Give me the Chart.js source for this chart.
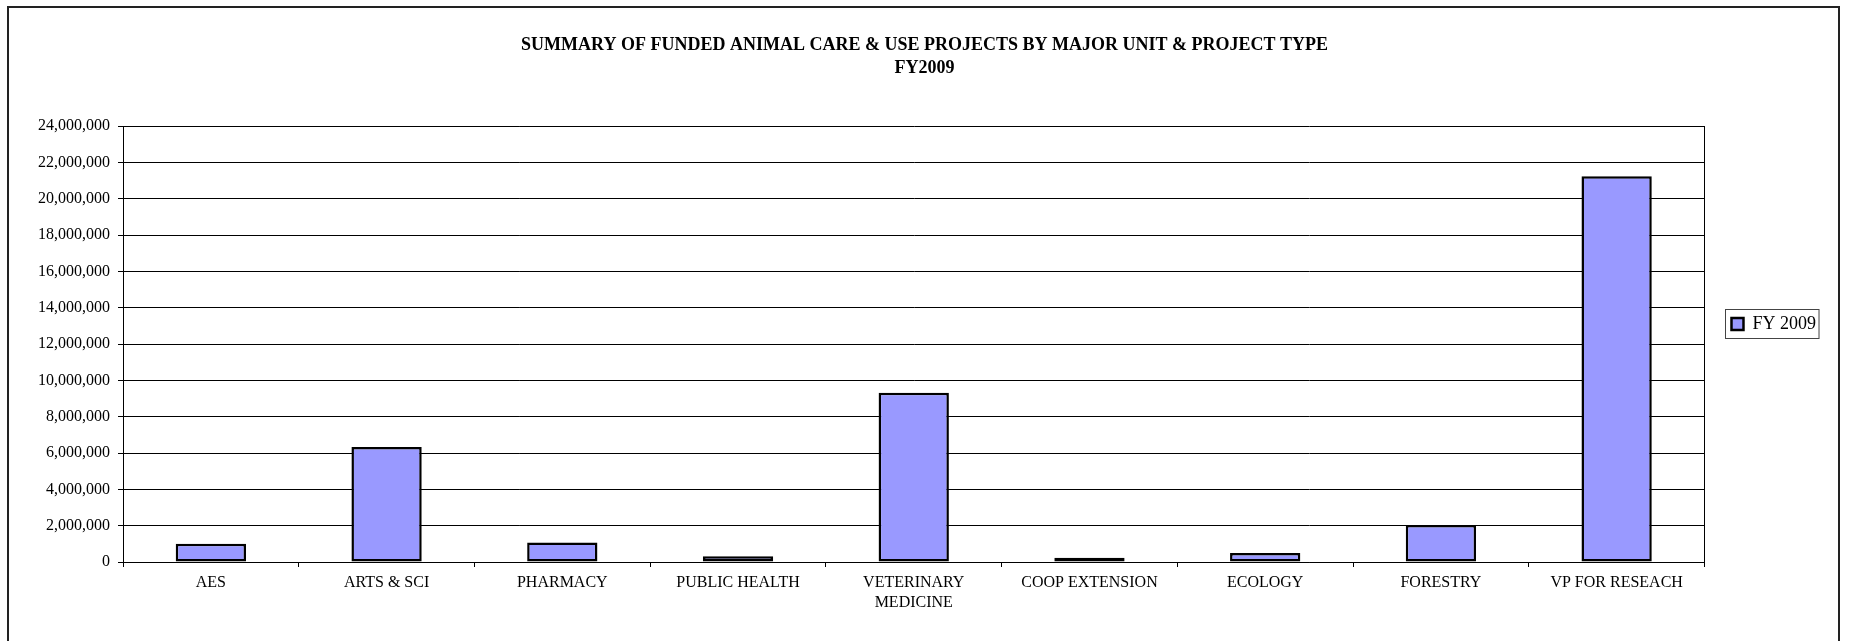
<!DOCTYPE html>
<html>
<head>
<meta charset="utf-8">
<title>Funded Animal Care & Use Projects FY2009</title>
<script src="https://cdn.jsdelivr.net/npm/chart.js@4.4.0/dist/chart.umd.min.js"></script>
<style>
  html, body { margin: 0; padding: 0; background: #fff; }
  canvas { display: block; }
</style>
</head>
<body>
<canvas id="chart" width="1851" height="641"></canvas>
<script>
// chart data
const units = ['AES', 'ARTS & SCI', 'PHARMACY', 'PUBLIC HEALTH', ['VETERINARY', 'MEDICINE'],
  'COOP EXTENSION', 'ECOLOGY', 'FORESTRY', 'VP FOR RESEACH'];
const fy2009 = [1000000, 6330000, 1080000, 320000, 9310000, 230000, 490000, 2030000, 21240000];
const seriesName = 'FY 2009';
const titleLines = ['SUMMARY OF FUNDED ANIMAL CARE & USE PROJECTS BY MAJOR UNIT & PROJECT TYPE', 'FY2009'];

const serif = '"Liberation Serif", "Times New Roman", serif';

// outer frame, plot box and the legend's border (like the Excel chart)
const framePlugin = {
  id: 'frame',
  beforeDraw(chart) {
    const ctx = chart.ctx;
    ctx.save();
    ctx.fillStyle = '#fff';
    ctx.fillRect(0, 0, chart.width, chart.height);
    ctx.restore();
  },
  afterDraw(chart) {
    const ctx = chart.ctx;
    const a = chart.chartArea;
    ctx.save();
    ctx.strokeStyle = '#222';
    ctx.lineWidth = 2;
    ctx.strokeRect(8, 7, 1831, 700);

    ctx.strokeStyle = '#000';
    ctx.lineWidth = 1;
    ctx.beginPath();
    ctx.moveTo(Math.round(a.right) + 0.5, a.top);
    ctx.lineTo(Math.round(a.right) + 0.5, a.bottom);
    ctx.stroke();

    const hb = chart.legend.legendHitBoxes[0];
    if (hb) {
      ctx.strokeStyle = '#444';
      ctx.strokeRect(Math.round(hb.left) - 5.5, Math.round(hb.top) - 5.5, hb.width + 9, hb.height + 11);
    }
    ctx.restore();
  }
};

new Chart(document.getElementById('chart'), {
  type: 'bar',
  data: {
    labels: units,
    datasets: [{
      label: seriesName,
      data: fy2009,
      backgroundColor: '#9999FF',
      borderColor: '#000',
      borderWidth: 2.5,
      borderSkipped: false,
      barPercentage: 0.4,
      categoryPercentage: 1.0
    }]
  },
  options: {
    responsive: false,
    devicePixelRatio: 1,
    animation: false,
    layout: { padding: { top: 7, left: 23, right: 25, bottom: 0 } },
    plugins: {
      tooltip: { enabled: false },
      title: {
        display: true,
        text: titleLines,
        color: '#000',
        font: { family: serif, size: 18, weight: 'bold', lineHeight: 23 / 18 },
        padding: { top: 26.5, bottom: 46.5 }
      },
      legend: {
        display: true,
        position: 'right',
        labels: {
          color: '#000',
          font: { family: serif, size: 18 },
          boxWidth: 12,
          boxHeight: 12,
          padding: 27
        }
      }
    },
    scales: {
      x: {
        afterFit(scale) { scale.height = 79; },
        grid: { drawOnChartArea: false, tickLength: 5, color: '#000', offset: true },
        border: { color: '#000', width: 1 },
        ticks: {
          color: '#000',
          font: { family: serif, size: 16, lineHeight: 1.25 },
          padding: 6,
          maxRotation: 0,
          autoSkip: false
        }
      },
      y: {
        afterFit(scale) { scale.width = 100; },
        min: 0,
        max: 24000000,
        grid: { color: '#000', tickLength: 5 },
        border: { color: '#000', width: 1 },
        ticks: {
          stepSize: 2000000,
          color: '#000',
          font: { family: serif, size: 16 },
          padding: 8,
          callback: (v) => v.toLocaleString('en-US')
        }
      }
    }
  },
  plugins: [framePlugin]
});
</script>
</body>
</html>
